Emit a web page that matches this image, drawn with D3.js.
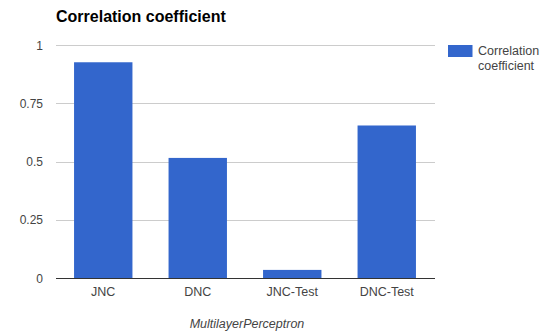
<!DOCTYPE html>
<html>
<head>
<meta charset="utf-8">
<script src="https://cdn.jsdelivr.net/npm/d3@7"></script>
<style>
  html, body { margin: 0; padding: 0; background: #fff; }
  text { font-family: "Liberation Sans", Arial, sans-serif; }
</style>
</head>
<body>
<div id="chart"></div>
<script>
const categories = ["JNC", "DNC", "JNC-Test", "DNC-Test"];
const values = [0.926, 0.516, 0.036, 0.655];
const yTicks = [0, 0.25, 0.5, 0.75, 1];
const yTickLabels = ["0", "0.25", "0.5", "0.75", "1"];
const seriesName = "Correlation coefficient";
const xTitle = "MultilayerPerceptron";

const width = 548;
const height = 333;
const margin = { top: 45, right: 114, bottom: 54.7, left: 56 };

const svg = d3.select("#chart")
  .append("svg")
  .attr("width", width)
  .attr("height", height);

const x = d3.scaleBand()
  .domain(categories)
  .range([margin.left, width - margin.right])
  .paddingInner(0.382)
  .paddingOuter(0.191);

const y = d3.scaleLinear()
  .domain([0, 1])
  .range([height - margin.bottom, margin.top]);

// gridlines
svg.append("g")
  .selectAll("line")
  .data(yTicks.filter(d => d !== 0))
  .enter()
  .append("line")
  .attr("x1", margin.left)
  .attr("x2", width - margin.right + 1)
  .attr("y1", d => Math.round(y(d)) + 0.5)
  .attr("y2", d => Math.round(y(d)) + 0.5)
  .attr("stroke", "#cccccc");

// y tick labels
svg.append("g")
  .selectAll("text")
  .data(yTicks)
  .enter()
  .append("text")
  .attr("x", 43)
  .attr("y", d => y(d) + 4.5)
  .attr("text-anchor", "end")
  .attr("font-size", 12)
  .attr("fill", "#444")
  .text((d, i) => yTickLabels[i]);

// bars
svg.append("g")
  .selectAll("rect")
  .data(values)
  .enter()
  .append("rect")
  .attr("x", (d, i) => x(categories[i]))
  .attr("width", x.bandwidth())
  .attr("y", d => y(d))
  .attr("height", d => y(0) - y(d))
  .attr("fill", "#3366cc");

// baseline
svg.append("line")
  .attr("x1", margin.left)
  .attr("x2", width - margin.right + 1)
  .attr("y1", Math.round(y(0)) + 0.5)
  .attr("y2", Math.round(y(0)) + 0.5)
  .attr("stroke", "#333");

// x labels
const xAxis = d3.axisBottom(x).tickSize(0).tickPadding(0);
const xg = svg.append("g")
  .attr("transform", `translate(0,${y(0)})`)
  .call(xAxis);
xg.select(".domain").remove();
xg.selectAll("text")
  .attr("dy", null)
  .attr("y", 18)
  .attr("font-size", 12.5)
  .attr("font-family", "'Liberation Sans', Arial, sans-serif")
  .attr("fill", "#444");

// x title
svg.append("text")
  .attr("x", (margin.left + width - margin.right) / 2 + 2)
  .attr("y", 328)
  .attr("text-anchor", "middle")
  .attr("font-size", 12.5)
  .attr("font-style", "italic")
  .attr("fill", "#444")
  .text(xTitle);

// title
svg.append("text")
  .attr("x", 56)
  .attr("y", 21.5)
  .attr("font-size", 16)
  .attr("font-weight", "bold")
  .attr("fill", "#000")
  .text(seriesName);

// legend
const legend = svg.append("g");
legend.append("rect")
  .attr("x", 448)
  .attr("y", 45)
  .attr("width", 24.5)
  .attr("height", 12)
  .attr("fill", "#3366cc");
legend.append("text")
  .attr("x", 478)
  .attr("y", 55)
  .attr("font-size", 12.5)
  .attr("fill", "#444")
  .selectAll("tspan")
  .data(seriesName.split(" "))
  .enter()
  .append("tspan")
  .attr("x", 478)
  .attr("dy", (d, i) => i === 0 ? 0 : 15)
  .text(d => d);
</script>
</body>
</html>
